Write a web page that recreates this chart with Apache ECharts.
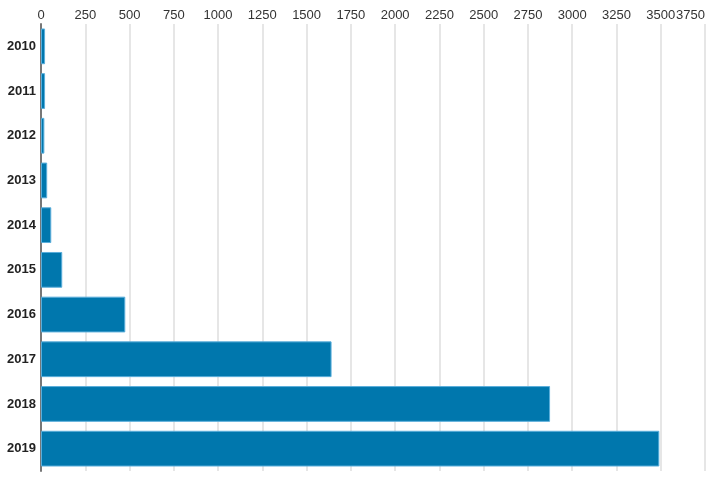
<!DOCTYPE html>
<html>
<head>
<meta charset="utf-8">
<script src="https://cdn.jsdelivr.net/npm/echarts@6/dist/echarts.min.js"></script>
<style>
html,body{margin:0;padding:0;background:#fff;}
#chart{width:719px;height:477px;}
</style>
</head>
<body>
<div id="chart"></div>
<script>
const years = ['2010','2011','2012','2013','2014','2015','2016','2017','2018','2019'];
const values = [23, 23, 19, 35, 58, 120, 476, 1641, 2875, 3492];
const xMin = 0, xMax = 3750, xStep = 250;

const chart = echarts.init(document.getElementById('chart'), null, {renderer: 'canvas'});
chart.setOption({
  animation: false,
  grid: {left: 41, right: 14, top: 24, bottom: 6, containLabel: false},
  xAxis: {
    type: 'value', position: 'top', min: xMin, max: xMax, interval: xStep,
    axisLine: {show: false}, axisTick: {show: false},
    axisLabel: {
      color: '#333', fontSize: 13, fontFamily: 'Liberation Sans, Arial, sans-serif', margin: 2,
      alignMaxLabel: 'right', showMaxLabel: true, showMinLabel: true, hideOverlap: false,
      formatter: function (v) { return String(v); }
    },
    splitLine: {show: true, lineStyle: {color: '#e6e6e6', width: 2}}
  },
  yAxis: {
    type: 'category', data: years, inverse: true,
    axisLine: {show: true, lineStyle: {color: '#777', width: 2}},
    axisTick: {show: false},
    axisLabel: {color: '#222', fontSize: 13, fontWeight: 'bold', fontFamily: 'Liberation Sans, Arial, sans-serif', margin: 5}
  },
  series: [{
    type: 'bar', data: values, barCategoryGap: '20%',
    itemStyle: {color: '#0077ad', borderColor: '#5aaedb', borderWidth: 1}
  }]
});
</script>
</body>
</html>
